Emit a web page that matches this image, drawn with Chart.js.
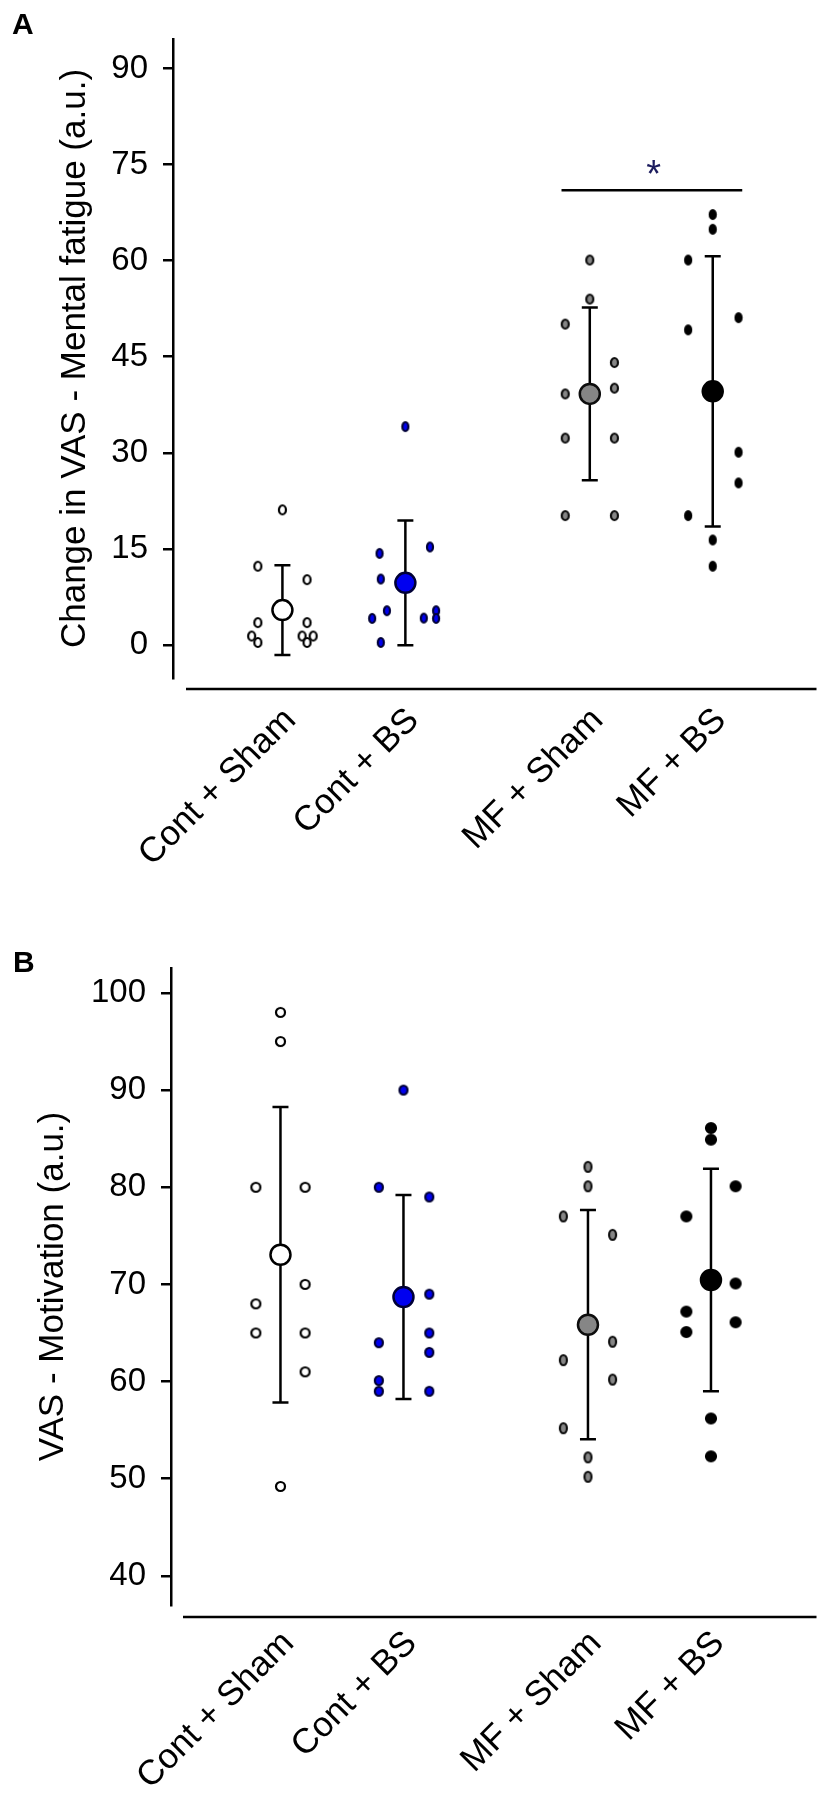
<!DOCTYPE html>
<html lang="en">
<head>
<meta charset="utf-8">
<title>VAS - Mental fatigue / Motivation</title>
<script src="https://cdn.jsdelivr.net/npm/chart.js@4.4.1/dist/chart.umd.min.js"></script>
<style>
  html, body { margin: 0; padding: 0; background: #fff; }
  #pagina { position: relative; width: 829px; height: 1796px; overflow: hidden; }
  canvas { position: absolute; left: 0; }
  #graficoA { top: 0; width: 829px; height: 900px; }
  #graficoB { top: 900px; width: 829px; height: 896px; }
  .letra { position: absolute; font: bold 30px 'Liberation Sans', Arial, sans-serif; line-height: 30px; }
</style>
</head>
<body>
<div id="pagina">
  <canvas id="graficoA" width="829" height="900"></canvas>
  <canvas id="graficoB" width="829" height="896"></canvas>
  <div class="letra" style="left:12px; top:9px">A</div>
  <div class="letra" style="left:13px; top:947px">B</div>
</div>
<script>
// Categorias e posição de cada grupo no eixo X
const grupos = ['Cont + Sham', 'Cont + BS', 'MF + Sham', 'MF + BS'];
const posX = [1, 2, 3.5, 4.5];

// Ticks dos eixos Y
const ticksA = [0, 15, 30, 45, 60, 75, 90];
const ticksB = [40, 50, 60, 70, 80, 90, 100];

// Painel A - Change in VAS - Mental fatigue (valores individuais e deslocamento lateral)
const contShamA = [21.1, 12.3, 10.2, 3.5, 1.4, 0.4, 3.5, 1.4, 1.4, 0.4];
const contShamA_dx = [0, -0.2, 0.2, -0.2, -0.25, -0.2, 0.2, 0.16, 0.25, 0.2];
const contBsA = [34.1, 15.3, 14.3, 10.3, 5.35, 4.15, 0.4, 4.2, 5.35, 4.15];
const contBsA_dx = [0, 0.2, -0.21, -0.2, -0.15, -0.27, -0.2, 0.15, 0.25, 0.25];
const mfShamA = [60.1, 54.0, 50.1, 44.1, 39.2, 40.1, 32.3, 32.3, 20.2, 20.2];
const mfShamA_dx = [0, 0, -0.2, 0.2, -0.2, 0.2, -0.2, 0.2, -0.2, 0.2];
const mfBsA = [67.2, 64.9, 60.1, 51.1, 49.2, 30.1, 25.3, 20.2, 16.4, 12.3];
const mfBsA_dx = [0, 0, -0.2, 0.21, -0.2, 0.21, 0.21, -0.2, 0, 0];
const mediasA = [5.45, 9.7, 39.2, 39.6];
const dpA = [7.0, 9.75, 13.5, 21.1];
const barraSigA = [3.27, 4.74, 71.0]; // x inicial, x final, y
const estrelaA = [4.02, 74.9];

// Painel B - VAS - Motivation
const contShamB = [98.0, 95.0, 80.0, 80.0, 70.0, 68.0, 65.0, 65.0, 61.0, 49.2];
const contShamB_dx = [0, 0, -0.2, 0.2, 0.2, -0.2, -0.2, 0.2, 0.2, 0];
const contBsB = [90.0, 80.0, 79.0, 69.0, 65.0, 63.0, 64.0, 60.1, 59.0, 59.0];
const contBsB_dx = [0, -0.2, 0.21, 0.21, 0.21, 0.21, -0.2, -0.2, -0.2, 0.21];
const mfShamB = [82.1, 80.1, 77.0, 75.1, 64.1, 62.2, 60.2, 55.2, 52.2, 50.2];
const mfShamB_dx = [0, 0, -0.2, 0.2, 0.2, -0.2, 0.2, -0.2, 0, 0];
const mfBsB = [86.1, 84.9, 80.1, 77.0, 70.1, 67.2, 66.1, 65.1, 56.2, 52.3];
const mfBsB_dx = [0, 0, 0.2, -0.2, 0.2, -0.2, 0.2, -0.2, 0, 0];
const mediasB = [73.05, 68.7, 65.85, 70.45];
const dpB = [15.2, 10.5, 11.8, 11.45];

const fonte = "'Liberation Sans', Arial, sans-serif";
const preenchimentos = ['#ffffff', '#0000f0', '#868686', '#000000'];
const contornos = ['#000000', '#000036', '#0d0d0d', '#000000'];

// Cria a marca (elipse) usada nos pontos individuais
function bolinha(larg, alt, cor, contorno) {
  const c = document.createElement('canvas');
  c.width = larg + 2;
  c.height = alt + 2;
  const g = c.getContext('2d');
  g.beginPath();
  g.ellipse(c.width / 2, c.height / 2, larg / 2 - 1, alt / 2 - 1, 0, 0, Math.PI * 2);
  g.fillStyle = cor;
  g.fill();
  g.lineWidth = 2.2;
  g.strokeStyle = contorno;
  g.stroke();
  return c;
}

function pontosDoGrupo(valores, desloc, i) {
  return valores.map((v, k) => ({ x: posX[i] + desloc[k], y: v }));
}

// Linha vertical de cada barra de erro (null separa os grupos)
function barrasDeErro(medias, dp) {
  const dados = [];
  medias.forEach((m, i) => {
    dados.push({ x: posX[i], y: m - dp[i] }, { x: posX[i], y: m + dp[i] }, { x: posX[i], y: null });
  });
  return dados;
}

function pontasDeErro(medias, dp) {
  return medias.flatMap((m, i) => [{ x: posX[i], y: m - dp[i] }, { x: posX[i], y: m + dp[i] }]);
}

// Linha do eixo X, afastada do eixo Y como na figura original
const linhaEixoX = {
  id: 'linhaEixoX',
  afterDraw(chart, args, opts) {
    const { ctx, chartArea } = chart;
    ctx.save();
    ctx.strokeStyle = '#000';
    ctx.lineWidth = 2.5;
    ctx.beginPath();
    ctx.moveTo(chartArea.left + opts.inicio, chartArea.bottom + opts.desloc);
    ctx.lineTo(chartArea.right, chartArea.bottom + opts.desloc);
    ctx.stroke();
    ctx.restore();
  }
};

// Asterisco de significância
const estrela = {
  id: 'estrela',
  afterDatasetsDraw(chart, args, opts) {
    if (!opts.ponto) return;
    const { ctx, scales } = chart;
    const px = scales.x.getPixelForValue(opts.ponto[0]);
    const py = scales.y.getPixelForValue(opts.ponto[1]);
    ctx.save();
    ctx.fillStyle = '#1c1c5e';
    ctx.font = '38px ' + fonte;
    ctx.textAlign = 'center';
    ctx.textBaseline = 'alphabetic';
    ctx.fillText('*', px, py + 22);
    ctx.restore();
  }
};

function montarGrafico(id, cfg) {
  const ctx = document.getElementById(id).getContext('2d');

  const datasets = [
    {
      label: 'Média',
      data: cfg.medias.map((m, i) => ({ x: posX[i], y: m })),
      pointRadius: 10,
      pointBackgroundColor: preenchimentos,
      pointBorderColor: contornos,
      pointBorderWidth: 2.5,
    },
    {
      label: 'Pontas',
      data: pontasDeErro(cfg.medias, cfg.dp),
      pointStyle: 'line',
      pointRadius: 8,
      pointBorderColor: '#000',
      pointBorderWidth: 2.5,
    },
    {
      label: 'DP',
      data: barrasDeErro(cfg.medias, cfg.dp),
      showLine: true,
      spanGaps: false,
      borderColor: '#000',
      borderWidth: 2.5,
      pointRadius: 0,
    },
  ];

  cfg.series.forEach((s, i) => {
    datasets.push({
      label: grupos[i],
      data: pontosDoGrupo(s[0], s[1], i),
      pointStyle: bolinha(cfg.marcas[i][0], cfg.marcas[i][1], preenchimentos[i], contornos[i]),
    });
  });

  if (cfg.barraSig) {
    datasets.push({
      label: 'sig',
      data: [{ x: cfg.barraSig[0], y: cfg.barraSig[2] }, { x: cfg.barraSig[1], y: cfg.barraSig[2] }],
      showLine: true,
      borderColor: '#000',
      borderWidth: 2.5,
      pointRadius: 0,
    });
  }

  return new Chart(ctx, {
    type: 'scatter',
    data: { datasets },
    plugins: [linhaEixoX, estrela],
    options: {
      responsive: false,
      animation: false,
      layout: { padding: { top: cfg.topo, right: 2, left: 0, bottom: 0 } },
      plugins: {
        legend: { display: false },
        tooltip: { enabled: false },
        linhaEixoX: { inicio: cfg.inicioX, desloc: cfg.deslocX },
        estrela: { ponto: cfg.estrela },
      },
      scales: {
        x: {
          type: 'linear',
          min: 0.11,
          max: cfg.maxX,
          afterBuildTicks: (s) => { s.ticks = posX.map(v => ({ value: v })); },
          afterFit: (s) => { s.height = cfg.alturaX; },
          grid: { display: false },
          border: { display: false },
          ticks: {
            autoSkip: false,
            minRotation: 45,
            maxRotation: 45,
            padding: cfg.padX,
            labelOffset: 8,
            color: '#000',
            font: { size: 35, family: fonte },
            callback: (v) => grupos[posX.indexOf(v)],
          },
        },
        y: {
          min: cfg.minY,
          max: cfg.maxY,
          afterBuildTicks: (s) => { s.ticks = cfg.ticks.map(v => ({ value: v })); },
          afterFit: (s) => { s.width = cfg.larguraY; },
          grid: { drawOnChartArea: false, drawTicks: true, tickLength: 10, lineWidth: 2.5, color: '#000' },
          border: { display: true, width: 2.5, color: '#000' },
          ticks: { padding: 15, color: '#000', font: { size: 33, family: fonte } },
          title: {
            display: true,
            text: cfg.titulo,
            color: '#000',
            font: { size: 35, family: fonte },
            padding: { top: cfg.padTitulo, bottom: 0 },
          },
        },
      },
    },
  });
}

montarGrafico('graficoA', {
  titulo: 'Change in VAS - Mental fatigue (a.u.)',
  ticks: ticksA, minY: -5.15, maxY: 94.6, maxX: 5.344,
  topo: 39, alturaX: 222, larguraY: 173, padTitulo: 54, padX: 14,
  inicioX: 13, deslocX: 11,
  medias: mediasA, dp: dpA,
  series: [[contShamA, contShamA_dx], [contBsA, contBsA_dx], [mfShamA, mfShamA_dx], [mfBsA, mfBsA_dx]],
  marcas: [[9, 11], [8, 11], [9, 11], [8, 11]],
  barraSig: barraSigA,
  estrela: estrelaA,
});

montarGrafico('graficoB', {
  titulo: 'VAS - Motivation (a.u.)',
  ticks: ticksB, minY: 37.0, maxY: 102.57, maxX: 5.358,
  topo: 68, alturaX: 191, larguraY: 171, padTitulo: 32, padX: 10,
  inicioX: 12, deslocX: 12,
  medias: mediasB, dp: dpB,
  series: [[contShamB, contShamB_dx], [contBsB, contBsB_dx], [mfShamB, mfShamB_dx], [mfBsB, mfBsB_dx]],
  marcas: [[11, 11], [10, 11], [9, 12], [12, 12]],
  barraSig: null,
  estrela: null,
});
</script>
</body>
</html>
